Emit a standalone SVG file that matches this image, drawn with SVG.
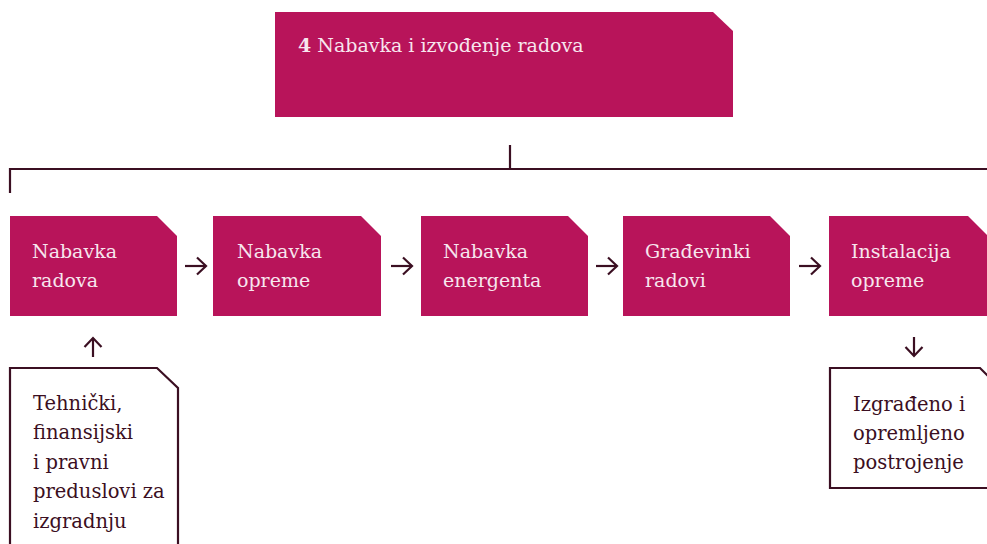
<svg xmlns="http://www.w3.org/2000/svg" width="987" height="544" viewBox="0 0 987 544">
<style>
.box{fill:#b8145a}
.wt{fill:#f7e6ee;font-family:"DejaVu Serif","Liberation Serif",serif;font-size:19px;font-weight:300}
.dk{fill:#3b0f22;font-family:"DejaVu Serif","Liberation Serif",serif;font-size:19.5px}
.ob{fill:#fff;stroke:#3b0f22;stroke-width:2.2}
.ln{fill:none;stroke:#3b0f22;stroke-width:2.2}
</style>
<defs>
<marker id="ah" markerWidth="13" markerHeight="20" refX="11" refY="10" orient="auto" markerUnits="userSpaceOnUse">
<path d="M2,1.5 L11,10 L2,18.5" fill="none" stroke="#3b0f22" stroke-width="2.2"/>
</marker>
</defs>
<rect width="987" height="544" fill="#fff"/>
<g id="connectors">
<path class="ln" d="M510,145 V169 M10,193 V169 H990"/>
<path class="ln" d="M185,266 H206" marker-end="url(#ah)"/>
<path class="ln" d="M391,266 H412" marker-end="url(#ah)"/>
<path class="ln" d="M596,266 H617" marker-end="url(#ah)"/>
<path class="ln" d="M799,266 H820" marker-end="url(#ah)"/>
<path class="ln" d="M93,357 V338" marker-end="url(#ah)"/>
<path class="ln" d="M914,337 V356" marker-end="url(#ah)"/>
</g>
<g id="top">
<path class="box" d="M275,12 H713 L733,31 V117 H275 Z"/>
<text class="wt" x="298" y="52"><tspan font-weight="bold">4</tspan> Nabavka i izvođenje radova</text>
</g>
<g id="n1">
<path class="box" d="M10,216 H157 L177,236 V316 H10 Z"/>
<text class="wt" x="32" y="258">Nabavka</text>
<text class="wt" x="32" y="287">radova</text>
</g>
<g id="n2">
<path class="box" d="M213,216 H361 L381,236 V316 H213 Z"/>
<text class="wt" x="237" y="258">Nabavka</text>
<text class="wt" x="237" y="287">opreme</text>
</g>
<g id="n3">
<path class="box" d="M421,216 H568 L588,236 V316 H421 Z"/>
<text class="wt" x="443" y="258">Nabavka</text>
<text class="wt" x="443" y="287">energenta</text>
</g>
<g id="n4">
<path class="box" d="M623,216 H770 L790,236 V316 H623 Z"/>
<text class="wt" x="645" y="258">Građevinki</text>
<text class="wt" x="645" y="287">radovi</text>
</g>
<g id="n5">
<path class="box" d="M829,216 H968 L988,236 V316 H829 Z"/>
<text class="wt" x="851" y="258">Instalacija</text>
<text class="wt" x="851" y="287">opreme</text>
</g>
<g id="in">
<path class="ob" d="M10,560 V368 H157 L178,388 V560"/>
<text class="dk" x="33" y="410">Tehnički,</text>
<text class="dk" x="33" y="439">finansijski</text>
<text class="dk" x="33" y="469">i pravni</text>
<text class="dk" x="33" y="498">preduslovi za</text>
<text class="dk" x="33" y="528">izgradnju</text>
</g>
<g id="out">
<path class="ob" d="M1000,488 H830 V368 H980 L1000,388"/>
<text class="dk" x="853" y="411">Izgrađeno i</text>
<text class="dk" x="853" y="440">opremljeno</text>
<text class="dk" x="853" y="469">postrojenje</text>
</g>
</svg>
